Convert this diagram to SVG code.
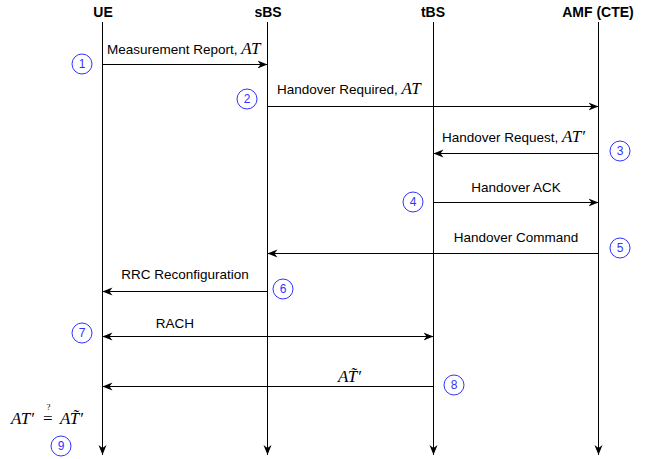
<svg xmlns="http://www.w3.org/2000/svg" width="646" height="459" viewBox="0 0 646 459">
<style>
.hdr{font-family:"Liberation Sans",Arial,sans-serif;font-size:14px;font-weight:bold;fill:#000;text-anchor:middle}
.lbl{font-family:"Liberation Sans",Arial,sans-serif;font-size:13.5px;fill:#000}
.m{font-family:"Liberation Serif","DejaVu Serif",serif;font-style:italic;font-size:17px}
.r{font-family:"Liberation Serif","DejaVu Serif",serif;font-style:normal}
.life{stroke:#000;stroke-width:1;fill:none}
.msg{stroke:#000;stroke-width:1;fill:none}
.num circle{fill:#fff;stroke:#3333ff;stroke-width:1}
.num text{font-family:"Liberation Sans",Arial,sans-serif;font-size:12px;fill:#3333ff;text-anchor:middle}
</style>
<defs>
<marker id="ah" viewBox="0 0 10 10" refX="10" refY="5" markerWidth="10" markerHeight="10" markerUnits="userSpaceOnUse" orient="auto-start-reverse">
<path d="M0,1 L10,5 L0,9 L3,5 Z" fill="#000"/>
</marker>
</defs>
<rect width="646" height="459" fill="#fff"/>
<g id="UE"><text class="hdr" x="103" y="17">UE</text><line class="life" x1="102.5" y1="22" x2="102.5" y2="455" marker-end="url(#ah)"/></g>
<g id="sBS"><text class="hdr" x="268" y="17">sBS</text><line class="life" x1="267.5" y1="22" x2="267.5" y2="455" marker-end="url(#ah)"/></g>
<g id="tBS"><text class="hdr" x="433" y="17">tBS</text><line class="life" x1="433.5" y1="22" x2="433.5" y2="455" marker-end="url(#ah)"/></g>
<g id="AMF"><text class="hdr" x="598" y="17">AMF (CTE)</text><line class="life" x1="598.5" y1="22" x2="598.5" y2="455" marker-end="url(#ah)"/></g>
<g id="connectors">
<line class="msg" x1="102.5" y1="64.5" x2="267.5" y2="64.5" marker-end="url(#ah)"/>
<line class="msg" x1="267.5" y1="106.5" x2="598.5" y2="106.5" marker-end="url(#ah)"/>
<line class="msg" x1="598.5" y1="153.5" x2="433.5" y2="153.5" marker-end="url(#ah)"/>
<line class="msg" x1="433.5" y1="202.5" x2="598.5" y2="202.5" marker-end="url(#ah)"/>
<line class="msg" x1="598.5" y1="253.5" x2="267.5" y2="253.5" marker-end="url(#ah)"/>
<line class="msg" x1="267.5" y1="291.5" x2="102.5" y2="291.5" marker-end="url(#ah)"/>
<line class="msg" x1="102.5" y1="336.5" x2="433.5" y2="336.5" marker-start="url(#ah)" marker-end="url(#ah)"/>
<line class="msg" x1="433.5" y1="386.5" x2="102.5" y2="386.5" marker-end="url(#ah)"/>
</g>
<g id="labels">
<text class="lbl" x="107" y="54">Measurement Report, <tspan class="m">AT</tspan></text>
<text class="lbl" x="277" y="94">Handover Required, <tspan class="m">AT</tspan></text>
<text class="lbl" x="442" y="142">Handover Request, <tspan class="m">AT′</tspan></text>
<text class="lbl" x="516" y="192" text-anchor="middle">Handover ACK</text>
<text class="lbl" x="516" y="242" text-anchor="middle">Handover Command</text>
<text class="lbl" x="185" y="279" text-anchor="middle">RRC Reconfiguration</text>
<text class="lbl" x="175" y="328" text-anchor="middle">RACH</text>
<text class="m" x="338" y="382">AT̃′</text>
<text class="m" x="11" y="424">AT′<tspan class="r" x="43" y="424">=</tspan><tspan class="r" font-size="9" x="46.5" y="410">?</tspan><tspan x="60" y="424">AT̃′</tspan></text>
</g>
<g id="n1" class="num"><circle cx="82" cy="64" r="10"/><text x="82" y="68">1</text></g>
<g id="n2" class="num"><circle cx="247" cy="99" r="10"/><text x="247" y="103">2</text></g>
<g id="n3" class="num"><circle cx="620" cy="151" r="10"/><text x="620" y="155">3</text></g>
<g id="n4" class="num"><circle cx="413" cy="202" r="10"/><text x="413" y="206">4</text></g>
<g id="n5" class="num"><circle cx="620" cy="248" r="10"/><text x="620" y="252">5</text></g>
<g id="n6" class="num"><circle cx="283" cy="289" r="10"/><text x="283" y="293">6</text></g>
<g id="n7" class="num"><circle cx="82" cy="333" r="10"/><text x="82" y="337">7</text></g>
<g id="n8" class="num"><circle cx="454" cy="385" r="10"/><text x="454" y="389">8</text></g>
<g id="n9" class="num"><circle cx="61" cy="446" r="10"/><text x="61" y="450">9</text></g>
</svg>
